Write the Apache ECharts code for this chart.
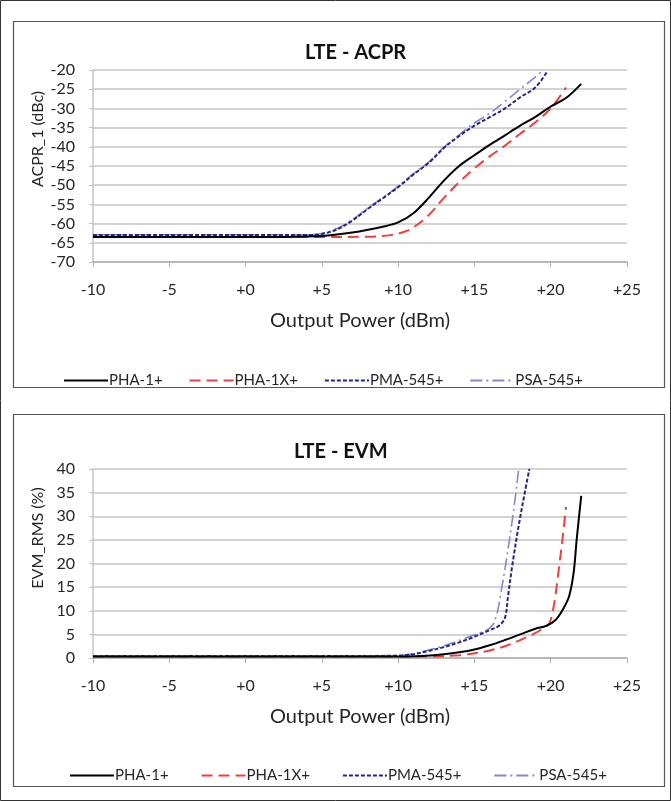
<!DOCTYPE html>
<html><head><meta charset="utf-8">
<script src="https://cdn.jsdelivr.net/npm/echarts@6/dist/echarts.min.js"></script>
<style>html,body{margin:0;padding:0;background:#fff}#c{width:671px;height:801px}</style>
</head><body><div id="c"></div>
<script>
// ---- data ----
const seriesNames = ['PHA-1+', 'PHA-1X+', 'PMA-545+', 'PSA-545+'];
const xTicks = [-10, -5, 0, 5, 10, 15, 20, 25];
const chartTitles = ['LTE - ACPR', 'LTE - EVM'];
const yNames = ['ACPR_1 (dBc)', 'EVM_RMS (%)'];
const xName = 'Output Power (dBm)';

// ACPR (dBc) vs output power (dBm)
const acprX_PHA1  = [-10, -5, 0, 5, 7, 9, 10, 11, 12, 13, 14, 15, 16, 17, 18, 19, 20, 21, 22];
const acprY_PHA1  = [-63.5, -63.5, -63.5, -63.2, -62.3, -60.8, -59.7, -57.3, -53.3, -48.8, -45, -42.2, -39.5, -37, -34.5, -32.2, -29.5, -27.3, -23.6];
const acprX_PHA1X = [-10, -5, 0, 5, 8, 9.5, 10.5, 11, 12, 13, 14, 15, 16, 17, 18, 19, 20, 21];
const acprY_PHA1X = [-63.5, -63.5, -63.5, -63.5, -63.4, -63, -62, -61, -57.8, -53.3, -49.2, -45.6, -42.5, -39.7, -36.6, -33.6, -30, -24.6];
const acprX_PMA   = [-10, -5, 0, 4, 5, 6, 7, 8, 9, 10, 11, 12, 13, 14, 15, 16, 17, 18, 19, 19.8];
const acprY_PMA   = [-63, -63, -63, -63, -62.7, -61.5, -59.2, -56.2, -53.4, -50.5, -47.2, -44.2, -40.3, -37.2, -34.5, -32.3, -30, -27.1, -24.5, -20.2];
const acprX_PSA   = [-10, -5, 0, 4, 5, 6, 7, 8, 9, 10, 11, 12, 13, 14, 15, 16, 17, 18, 19, 19.5];
const acprY_PSA   = [-62.9, -62.9, -62.9, -62.9, -62.6, -61.3, -59, -56, -53.2, -50.3, -47, -44, -40.1, -36.9, -33.8, -31.3, -28.2, -25, -21.8, -20];

// EVM_RMS (%) vs output power (dBm)
const evmX_PHA1  = [-10, -5, 0, 5, 10, 11.5, 13, 14, 15, 16, 17, 18, 19, 19.7, 20.3, 20.8, 21.2, 21.5, 21.7, 22];
const evmY_PHA1  = [0.3, 0.3, 0.3, 0.3, 0.3, 0.4, 0.8, 1.2, 1.8, 2.7, 3.8, 5, 6.2, 6.8, 8, 10.3, 13, 18, 25, 34.3];
const evmX_PHA1X = [-10, -5, 0, 5, 10, 12, 14, 15, 16, 17, 18, 19, 19.5, 19.9, 20.2, 20.5, 20.8, 21];
const evmY_PHA1X = [0.3, 0.3, 0.3, 0.3, 0.3, 0.3, 0.6, 1.0, 1.6, 2.5, 3.8, 5.3, 6.3, 7.3, 11, 18, 26, 32];
const evmX_PMA   = [-10, -5, 0, 5, 10, 11, 12, 13, 14, 15, 16, 16.6, 17, 17.2, 17.5, 17.9, 18.3, 18.6];
const evmY_PMA   = [0.4, 0.4, 0.4, 0.4, 0.5, 0.8, 1.5, 2.3, 3.3, 4.5, 5.9, 6.8, 8.5, 13, 20, 28, 35, 40];
const evmX_PSA   = [-10, -5, 0, 5, 10, 11, 12, 13, 14, 15, 16, 16.4, 16.8, 17.2, 17.6, 17.9];
const evmY_PSA   = [0.4, 0.4, 0.4, 0.4, 0.5, 0.9, 1.7, 2.6, 3.7, 4.9, 6.3, 8.5, 15, 23, 32, 40];

// ---- chart ----
const FONT = 'Lato';
const TXT = '#262626';
const zip = (xs, ys) => xs.map((x, i) => [x, ys[i]]);
const styles = [
  {color: '#000000', type: 'solid', width: 2},
  {color: '#e8423f', type: [11, 6], width: 2},
  {color: '#262680', type: [4, 2], width: 2},
  {color: '#8a86c8', type: [12, 4, 2, 4], width: 1.6}
];
const acprData = [zip(acprX_PHA1, acprY_PHA1), zip(acprX_PHA1X, acprY_PHA1X), zip(acprX_PMA, acprY_PMA), zip(acprX_PSA, acprY_PSA)];
const evmData = [zip(evmX_PHA1, evmY_PHA1), zip(evmX_PHA1X, evmY_PHA1X), zip(evmX_PMA, evmY_PMA), zip(evmX_PSA, evmY_PSA)];

function xAxis(gi) {
  return {
    type: 'value', gridIndex: gi, min: xTicks[0], max: xTicks[xTicks.length - 1], interval: 5,
    name: xName, nameLocation: 'middle', nameGap: 49,
    nameTextStyle: {fontFamily: FONT, fontSize: 20, color: TXT},
    axisLine: {onZero: false, lineStyle: {color: '#b0b0b0', width: 1.5}},
    axisTick: {show: true, length: 5, lineStyle: {color: '#b0b0b0'}},
    axisLabel: {fontFamily: FONT, fontSize: 16, color: TXT, margin: 20,
      formatter: v => (v >= 0 ? '+' + v : String(v))},
    splitLine: {show: false}
  };
}
function yAxis(gi, min, max) {
  return {
    type: 'value', gridIndex: gi, min: min, max: max, interval: 5,
    axisLine: {show: true, onZero: false, lineStyle: {color: '#c4c4c4', width: 1.5}},
    axisTick: {show: true, length: 4, lineStyle: {color: '#c4c4c4'}},
    axisLabel: {fontFamily: FONT, fontSize: 16, color: TXT, margin: 18},
    splitLine: {lineStyle: {color: '#c4c4c4', width: 1.6}}
  };
}
const series = [];
[acprData, evmData].forEach((set, gi) => {
  set.forEach((d, i) => {
    series.push({
      name: seriesNames[i], type: 'line', xAxisIndex: gi, yAxisIndex: gi,
      data: d, showSymbol: false, symbol: 'none', smooth: 0.35,
      lineStyle: styles[i], itemStyle: {color: styles[i].color}, z: 10 - i
    });
  });
});
function legend(top, left, gap) {
  return {
    top: top, left: left, itemWidth: 44, itemHeight: 8, itemGap: gap,
    itemStyle: {opacity: 0},
    textStyle: {fontFamily: FONT, fontSize: 15, color: TXT, padding: [0, 0, 0, -4]},
    data: seriesNames, selectedMode: false
  };
}
const chart = echarts.init(document.getElementById('c'), null, {renderer: 'canvas'});
chart.setOption({
  animation: false,
  backgroundColor: '#fff',
  graphic: [
    {type: 'rect', shape: {x: 0.5, y: 0.5, width: 670, height: 800}, style: {fill: 'none', stroke: '#333', lineWidth: 1}, silent: true},
    {type: 'rect', shape: {x: 13.5, y: 21.5, width: 651, height: 366}, style: {fill: 'none', stroke: '#555', lineWidth: 1.2}, silent: true},
    {type: 'rect', shape: {x: 13.5, y: 414.5, width: 651, height: 372}, style: {fill: 'none', stroke: '#555', lineWidth: 1.2}, silent: true},
    {type: 'text', x: 38, y: 139, rotation: Math.PI / 2,
      style: {text: yNames[0], fontFamily: FONT, fontSize: 16, fill: TXT, align: 'center', verticalAlign: 'middle'}, silent: true},
    {type: 'text', x: 38, y: 538, rotation: Math.PI / 2,
      style: {text: yNames[1], fontFamily: FONT, fontSize: 16, fill: TXT, align: 'center', verticalAlign: 'middle'}, silent: true}
  ],
  title: [
    {text: chartTitles[0], left: 300, top: 38, textStyle: {fontFamily: FONT, fontSize: 20, fontWeight: 'bold', color: '#111'}},
    {text: chartTitles[1], left: 289, top: 437, textStyle: {fontFamily: FONT, fontSize: 20, fontWeight: 'bold', color: '#111'}}
  ],
  legend: [legend(368, 58, 26), legend(763, 64, 32)],
  grid: [
    {left: 93, right: 44, top: 70, height: 192},
    {left: 93, right: 44, top: 469, height: 189}
  ],
  xAxis: [xAxis(0), xAxis(1)],
  yAxis: [yAxis(0, -70, -20), yAxis(1, 0, 40)],
  series: series
});
</script></body></html>
